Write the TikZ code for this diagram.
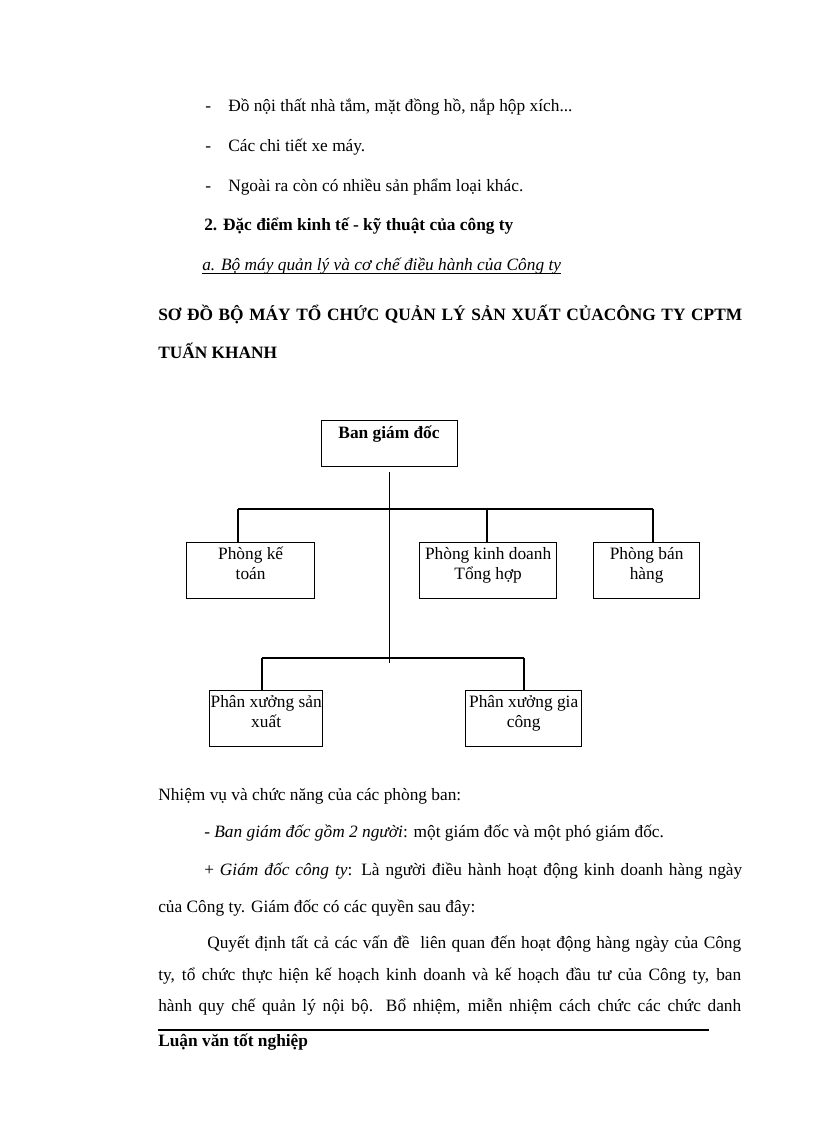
\documentclass[tikz,border=0pt]{standalone}
\usepackage{fontspec}
\setmainfont{Liberation Serif}
\newlength\pxunit
\setlength\pxunit{0.75pt}
\newcommand\jline[2]{\makebox[#1\pxunit][s]{#2}}
\newcommand\mybodyfont{\fontsize{13}{15}\selectfont}
\begin{document}
\begin{tikzpicture}[x=0.75pt,y=-0.75pt,
  txt/.style={anchor=base west, inner sep=0pt, font=\mybodyfont},
  bold/.style={font=\mybodyfont\bfseries},
  ital/.style={font=\mybodyfont\itshape},
  box/.style={draw, line width=1pt, anchor=north west, inner sep=0pt},
  boxtxt/.style={anchor=north, inner sep=0pt, align=center, font=\mybodyfont},
  conn/.style={line width=0.8pt}]
\useasboundingbox (0,0) rectangle (816,1123);
\fill[white] (0,0) rectangle (816,1123);

% upper text
\node[txt] (d1) at (205,112) {-};
\node[txt] (l1) at (228,112) {Đồ nội thất nhà tắm, mặt đồng hồ, nắp hộp xích...};
\node[txt] (d2) at (205,152) {-};
\node[txt] (l2) at (228,152) {Các chi tiết xe máy.};
\node[txt] (d3) at (205,192) {-};
\node[txt] (l3) at (228,192) {Ngoài ra còn có nhiều sản phẩm loại khác.};
\node[txt,bold] (h2) at (204,230) {2. Đặc điểm kinh tế - kỹ thuật của công ty};
\node[txt,ital] (ha) at (202,270) {a. Bộ máy quản lý và cơ chế điều hành của Công ty};
\draw[line width=0.75pt] ([yshift=-2.3pt]ha.base west) -- ([yshift=-2.3pt]ha.base east);

\node[txt,bold] (t1) at (158,320) {\jline{584}{SƠ ĐỒ BỘ MÁY TỔ CHỨC QUẢN LÝ SẢN XUẤT CỦACÔNG TY CPTM}};
\node[txt,bold] (t2) at (158,358) {TUẤN KHANH};

% diagram boxes
\node[box, minimum width=102pt, minimum height=34.5pt] (bgd) at (321,420) {};
\node[anchor=base, inner sep=0pt, bold] (bgdt) at (389,438) {Ban giám đốc};
\node[box, minimum width=96pt, minimum height=42pt] (pkt) at (186,542) {};
\node[boxtxt] (pktt) at (pkt.north) {\rule{0pt}{13pt}Phòng kế\\toán};
\node[box, minimum width=102.75pt, minimum height=42pt] (pkd) at (419,542) {};
\node[boxtxt] (pkdt) at (pkd.north) {\rule{0pt}{13pt}Phòng kinh doanh\\Tổng hợp};
\node[box, minimum width=79.5pt, minimum height=42pt] (pbh) at (593,542) {};
\node[boxtxt] (pbht) at (pbh.north) {\rule{0pt}{13pt}Phòng bán\\hàng};
\node[box, minimum width=84.75pt, minimum height=42pt] (pxs) at (209,690) {};
\node[boxtxt] (pxst) at (pxs.north) {\rule{0pt}{13pt}Phân xưởng sản\\xuất};
\node[box, minimum width=87pt, minimum height=42pt] (pxg) at (465,690) {};
\node[boxtxt] (pxgt) at (pxg.north) {\rule{0pt}{13pt}Phân xưởng gia\\công};

% connectors
\coordinate (tTop) at ([yshift=-3.75pt]bgd.south);
\coordinate (tBot) at (388,663);
\coordinate (bL) at (238,509);
\coordinate (bM) at (487,509);
\coordinate (bR) at (653,509);
\coordinate (lL) at (262,658);
\coordinate (lR) at (524,658);
\draw[conn] (tTop) -- (tTop |- tBot);
\draw[conn] (bL) -- (bR);
\draw[conn] (bL) -- (bL |- pkt.north);
\draw[conn] (bM) -- (bM |- pkd.north);
\draw[conn] (bR) -- (bR |- pbh.north);
\draw[conn] (lL) -- (lR);
\draw[conn] (lL) -- (lL |- pxs.north);
\draw[conn] (lR) -- (lR |- pxg.north);

% lower text
\node[txt] (n1) at (158,800) {Nhiệm vụ và chức năng của các phòng ban:};
\node[txt] (n2) at (204,837) {- \textit{Ban giám đốc gồm 2 người}: một giám đốc và một phó giám đốc.};
\node[txt] (n3) at (204,875) {\jline{538}{+ \textit{Giám đốc công ty}: Là người điều hành hoạt động kinh doanh hàng ngày}};
\node[txt] (n4) at (158,912) {của Công ty. Giám đốc có các quyền sau đây:};
\node[txt] (n5) at (207,948) {\jline{534}{Quyết định tất cả các vấn đề\ \ liên quan đến hoạt động hàng ngày của Công}};
\node[txt] (n6) at (158,980) {\jline{583}{ty, tổ chức thực hiện kế hoạch kinh doanh và kế hoạch đầu tư của Công ty, ban}};
\node[txt] (n7) at (158,1011) {\jline{583}{hành quy chế quản lý nội bộ. Bổ nhiệm, miễn nhiệm cách chức các chức danh}};
\coordinate (r1) at (158,1030);
\coordinate (r2) at (709,1030);
\draw[line width=1.5pt] (r1) -- (r2);
\node[txt,bold] (foot) at (158,1046) {Luận văn tốt nghiệp};
\end{tikzpicture}
\end{document}
